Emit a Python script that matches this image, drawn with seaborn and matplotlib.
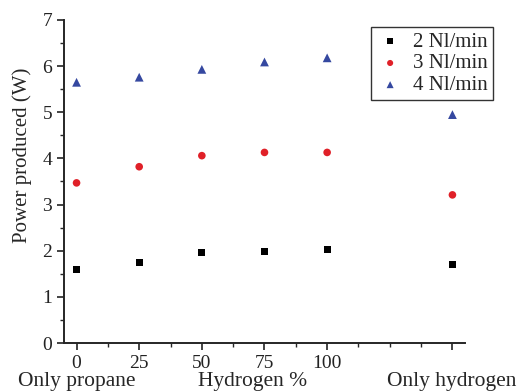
import pandas as pd
import matplotlib.pyplot as plt
import seaborn as sns
from matplotlib.ticker import MultipleLocator

# x positions: 0..100 % hydrogen, 150 stands for "only hydrogen"
x_pos = [0, 25, 50, 75, 100, 150]
p_2nl = [1.59, 1.75, 1.96, 1.99, 2.03, 1.71]
p_3nl = [3.47, 3.82, 4.06, 4.13, 4.13, 3.21]
p_4nl = [5.65, 5.76, 5.93, 6.09, 6.18, 4.95]
series = ['2 Nl/min', '3 Nl/min', '4 Nl/min']
tick_labels = ['0', '25', '50', '75', '100', '']

colors = ['black', '#e02028', '#3548a0']
markers = ['s', 'o', '^']
sizes = [26, 30, 40]

sns.set_style('ticks')
plt.rcParams['font.family'] = ['Liberation Serif', 'DejaVu Serif']

fig = plt.figure(figsize=(5.18, 3.92), dpi=100)
ax = fig.add_axes([0.1236, 0.125, 0.774, 0.824])

for name, vals, c, m, s in zip(series, [p_2nl, p_3nl, p_4nl], colors, markers, sizes):
    df = pd.DataFrame({'x': x_pos, 'power': vals})
    sns.scatterplot(data=df, x='x', y='power', color=c, marker=m, s=s,
                    edgecolor='none', label=name, ax=ax)

ax.set_xlim(-5, 155)
ax.set_ylim(0, 7)
ax.set_xticks(x_pos)
ax.set_xticklabels(tick_labels)
ax.xaxis.set_minor_locator(MultipleLocator(12.5))
ax.yaxis.set_major_locator(MultipleLocator(1))
ax.yaxis.set_minor_locator(MultipleLocator(0.5))
ax.tick_params(which='major', direction='out', length=5, width=1.2, labelsize=14, colors='#222222')
ax.tick_params(which='minor', direction='out', length=3, width=1)
for sp in ['left', 'bottom']:
    ax.spines[sp].set_linewidth(1.4)
sns.despine(ax=ax)

ax.set_xlabel('')
ax.set_ylabel('')
fig.text(0.042, 1 - 155 / 392, 'Power produced (W)', fontsize=15, rotation=90,
         ha='center', va='center')
fig.text(77 / 518, 0.028, 'Only propane', fontsize=15.5, ha='center', va='center')
fig.text(253 / 518, 0.028, 'Hydrogen %', fontsize=15.5, ha='center', va='center')
fig.text(452 / 518, 0.028, 'Only hydrogen', fontsize=15.5, ha='center', va='center')

leg = ax.legend(loc='upper right', bbox_to_anchor=(493 / 518, 1 - 27 / 392),
                bbox_transform=fig.transFigure, fontsize=15, frameon=True,
                fancybox=False, edgecolor='#333333', handletextpad=0.45,
                handlelength=1.3, borderpad=0.25, labelspacing=0.1, borderaxespad=0,
                markerscale=0.8, framealpha=1)
leg.get_frame().set_linewidth(1.0)

fig.savefig('out.png', dpi=100)
